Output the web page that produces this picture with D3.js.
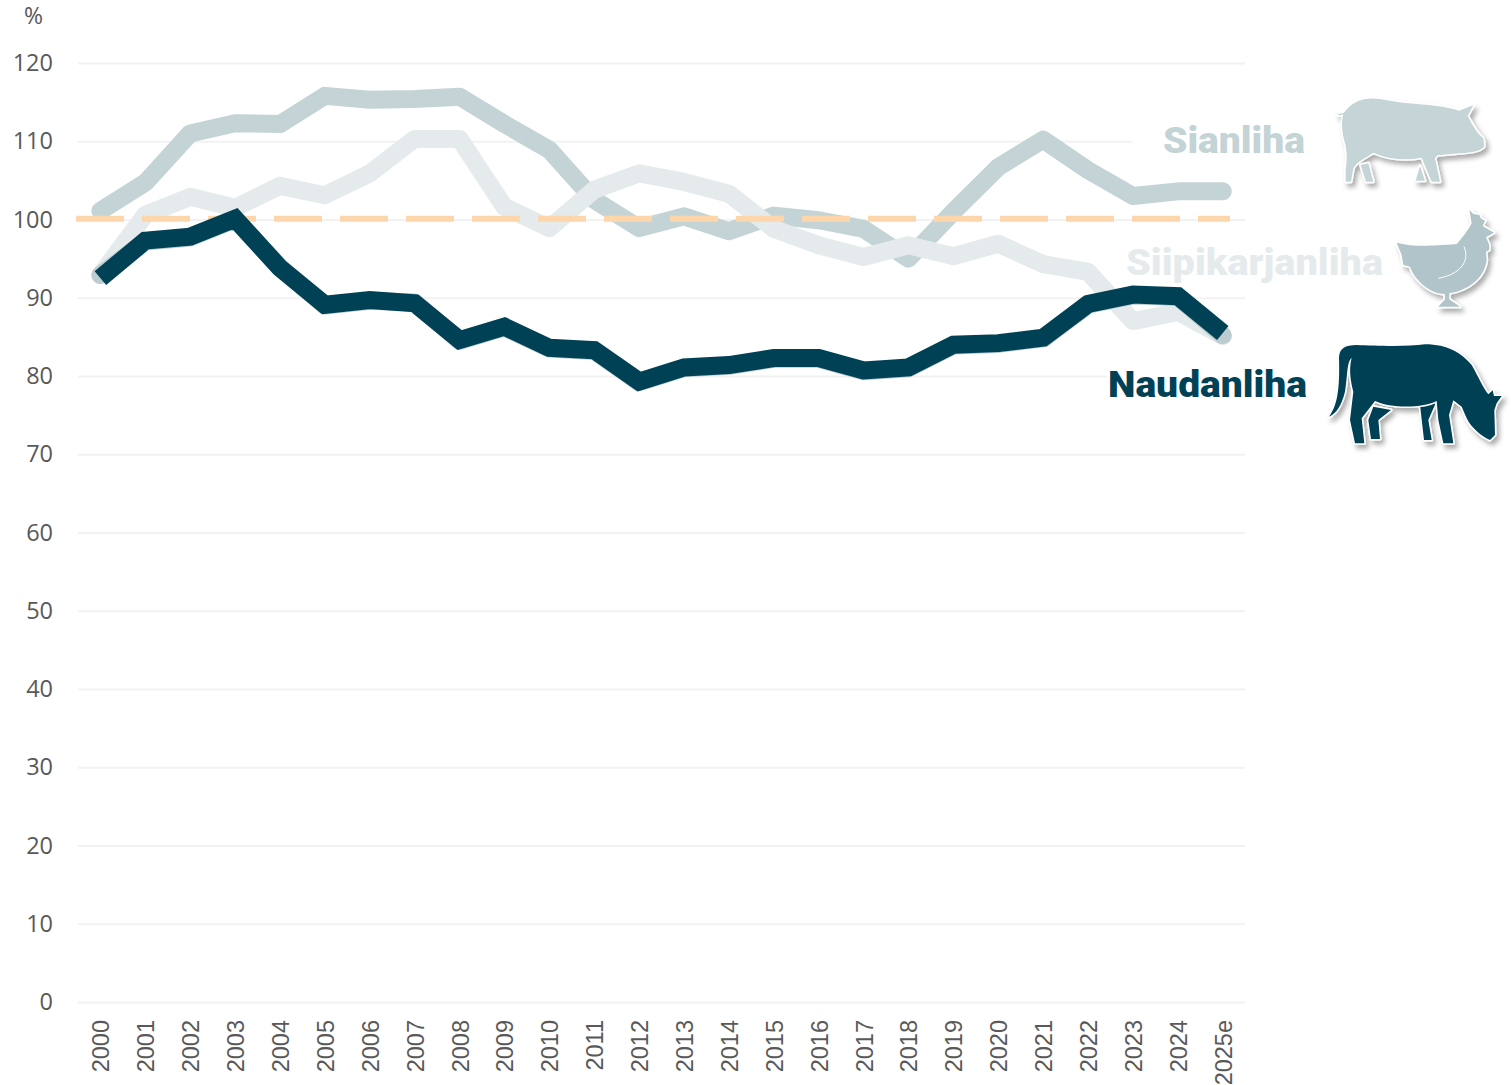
<!DOCTYPE html>
<html>
<head>
<meta charset="utf-8">
<script src="https://cdn.jsdelivr.net/npm/d3@7"></script>
<style>
  html, body { margin: 0; padding: 0; background: #fff; }
  svg { display: block; }
  .y-axis text { font-family: "Open Sans", sans-serif; font-size: 23.5px; fill: #595959; }
  .x-axis text { font-family: "Liberation Sans", sans-serif; font-size: 23.5px; fill: #595959; }
  .series-label { font-family: Roboto, sans-serif; font-weight: 900; font-size: 37px; }
</style>
</head>
<body>
<div id="chart"></div>
<script>
const years = ['2000', '2001', '2002', '2003', '2004', '2005', '2006', '2007', '2008', '2009', '2010', '2011', '2012',
  '2013', '2014', '2015', '2016', '2017', '2018', '2019', '2020', '2021', '2022', '2023', '2024', '2025e'];

const sianliha = [101.1, 104.7, 111, 112.3, 112.2, 115.8, 115.3, 115.4, 115.7, 112.2, 108.9, 102.5, 98.9,
  100.4, 98.5, 100.5, 99.9, 98.8, 95, 101, 106.7, 110.2, 106.3, 103, 103.6, 103.6];
const siipikarjanliha = [92.9, 100.6, 102.9, 101.5, 104.3, 103.1, 105.9, 110.3, 110.3, 101.6, 98.9, 103.8, 105.9,
  104.8, 103.3, 98.8, 96.7, 95.2, 96.7, 95.3, 96.9, 94.3, 93.3, 87, 88.2, 85.1];
const naudanliha = [92.5, 97.3, 97.8, 100.1, 93.8, 89.1, 89.7, 89.3, 84.6, 86.3, 83.6, 83.3, 79.3,
  81.1, 81.4, 82.3, 82.3, 80.7, 81.1, 84, 84.2, 84.9, 89.2, 90.4, 90.2, 85.5];
// Hidden line under the dark one, only its rim and end caps show
const naudanlihaRim = [92.9, 97.2, 97.7, 100, 93.9, 89, 89.6, 89.4, 84.5, 86.2, 83.5, 83.2, 79.2,
  81, 81.3, 82.2, 82.2, 80.6, 81, 83.9, 84.1, 84.8, 89.1, 90.3, 90.1, 85.2];

const yTicks = [0, 10, 20, 30, 40, 50, 60, 70, 80, 90, 100, 110, 120];
const referenceLevel = [100.1];

const width = 1511;
const height = 1085;

const x = d3.scalePoint().domain(years).range([100.4, 1222.8]);
const y = d3.scaleLinear().domain([0, 120]).range([1002, 63]);

const svg = d3.select('#chart').append('svg')
  .attr('width', width)
  .attr('height', height)
  .attr('viewBox', `0 0 ${width} ${height}`);

const defs = svg.append('defs');
// The icons are scaled by a third, so these numbers are three times the real offset
const shadow = defs.append('filter').attr('id', 'icon-shadow')
  .attr('x', '-20%').attr('y', '-20%').attr('width', '150%').attr('height', '150%');
shadow.append('feDropShadow')
  .attr('dx', 9).attr('dy', 12).attr('stdDeviation', 8)
  .attr('flood-color', '#000').attr('flood-opacity', 0.33);

// Gridlines and value axis
const yAxis = svg.append('g')
  .attr('class', 'y-axis')
  .attr('transform', 'translate(78,0)')
  .call(d3.axisLeft(y).tickValues(yTicks).tickSize(-1167).tickPadding(25));
yAxis.select('.domain').remove();
yAxis.selectAll('line').attr('stroke', '#f2f2f2').attr('stroke-width', 2);

// Year axis, labels read bottom to top
const xAxis = svg.append('g')
  .attr('class', 'x-axis')
  .attr('transform', `translate(0,${y(0)})`)
  .call(d3.axisBottom(x).tickSize(0));
xAxis.select('.domain').remove();
xAxis.selectAll('text')
  .attr('transform', 'rotate(-90)')
  .attr('text-anchor', 'end')
  .attr('x', -18)
  .attr('y', 0)
  .attr('dy', '0.36em');

svg.append('text')
  .attr('x', 24)
  .attr('y', 24)
  .attr('font-family', '"Open Sans", sans-serif')
  .attr('font-size', 23)
  .attr('fill', '#595959')
  .text('%');

const line = d3.line().x((d, i) => x(years[i])).y((d) => y(d));

// White plates under two of the labels cut the gridlines off
svg.append('rect').attr('x', 1132).attr('y', 120).attr('width', 190).attr('height', 40).attr('fill', '#fff');
svg.append('rect').attr('x', 1107).attr('y', 365).attr('width', 205).attr('height', 40).attr('fill', '#fff');

svg.append('path')
  .datum(sianliha)
  .attr('d', line)
  .attr('fill', 'none')
  .attr('stroke', '#c4d3d5')
  .attr('stroke-width', 18)
  .attr('stroke-linecap', 'round')
  .attr('stroke-linejoin', 'round');

svg.append('path')
  .datum(siipikarjanliha)
  .attr('d', line)
  .attr('fill', 'none')
  .attr('stroke', '#e5ebec')
  .attr('stroke-width', 18)
  .attr('stroke-linecap', 'round')
  .attr('stroke-linejoin', 'round');

// 100 % reference
svg.append('line')
  .datum(referenceLevel)
  .attr('x1', 76)
  .attr('x2', 1230)
  .attr('y1', (d) => y(d[0]))
  .attr('y2', (d) => y(d[0]))
  .attr('stroke', '#fdd7ab')
  .attr('stroke-width', 6)
  .attr('stroke-dasharray', '48 18');

svg.append('path')
  .datum(naudanlihaRim)
  .attr('d', line)
  .attr('fill', 'none')
  .attr('stroke', '#bccccf')
  .attr('stroke-width', 18)
  .attr('stroke-linecap', 'round')
  .attr('stroke-linejoin', 'round');

svg.append('path')
  .datum(naudanliha)
  .attr('d', line)
  .attr('fill', 'none')
  .attr('stroke', '#014155')
  .attr('stroke-width', 18)
  .attr('stroke-linejoin', 'miter');

// Series labels
const addLabel = (txt, xPos, yPos, len, color) => {
  svg.append('text')
    .attr('class', 'series-label')
    .attr('x', xPos)
    .attr('y', yPos)
    .attr('textLength', len)
    .attr('lengthAdjust', 'spacingAndGlyphs')
    .attr('fill', color)
    .text(txt);
};
addLabel('Sianliha', 1163, 153, 142, '#c4d3d5');
addLabel('Siipikarjanliha', 1126, 275, 257, '#e5ebec');
addLabel('Naudanliha', 1108, 397, 199, '#014155');

// Animal icons, traced at 3x so the path numbers stay whole
const addIcon = (transform, fill, shapes, creases = []) => {
  const g = svg.append('g')
    .attr('transform', `${transform} scale(${1 / 3})`)
    .attr('filter', 'url(#icon-shadow)');
  shapes.forEach((d) => {
    g.append('path')
      .attr('d', d)
      .attr('fill', fill)
      .attr('stroke', '#fff')
      .attr('stroke-width', 9)
      .attr('stroke-linejoin', 'round')
      .attr('paint-order', 'stroke');
  });
  creases.forEach((d) => {
    g.append('path')
      .attr('d', d)
      .attr('fill', 'none')
      .attr('stroke', '#fff')
      .attr('stroke-width', 3);
  });
};

addIcon('translate(1325,90)', '#c4d4d7', [
  'M107,225 L130,220 L145,275 L123,275 Z',
  'M285,228 L300,272 L272,272 Z',
  'M55,72 C46,78 38,76 35,70 C40,74 48,70 57,68 C72,48 95,28 130,26 C170,24 200,36 250,40 C300,44 370,50 402,62 L445,46 L428,78 C440,100 455,130 475,145 L478,168 C472,182 440,188 405,190 L338,196 L330,205 L345,275 L320,275 L290,203 C240,212 190,208 145,188 C120,205 95,215 85,235 L78,275 L62,275 L62,240 C65,215 70,190 55,140 C50,110 50,90 55,72 Z'
]);

addIcon('translate(1390,200)', '#b0c4ca', [
  'M238,30 L250,42 L268,45 L272,55 L285,62 L278,78 L312,98 L288,112 L298,135 L298,150 L288,155 L290,180 C285,230 240,270 178,280 L178,298 L210,320 L145,320 L165,298 L165,282 C110,280 70,230 60,200 L40,195 L35,165 L20,128 C50,135 75,142 200,132 C220,110 235,90 245,70 Z'
], [
  'M222,140 C240,180 215,222 145,235'
]);

addIcon('translate(1325,335)', '#014155', [
  'M145,215 L198,225 L160,255 L165,312 L138,312 L130,255 Z',
  'M285,210 L332,205 L310,255 L320,315 L297,315 Z',
  'M42,70 C42,40 60,30 95,30 C150,32 240,36 300,28 C370,28 410,55 440,90 C460,125 475,160 490,178 L503,166 L507,183 L530,183 L515,205 L508,225 L510,300 L495,315 C470,305 440,280 425,250 L410,215 L385,196 L372,240 L385,325 L355,325 L340,255 L335,198 C300,218 200,222 150,198 L110,250 L118,325 L90,325 L75,255 L85,170 C75,130 72,100 80,68 C65,80 68,120 60,170 C50,210 35,235 12,245 C35,215 45,170 42,70 Z'
]);
</script>
</body>
</html>
